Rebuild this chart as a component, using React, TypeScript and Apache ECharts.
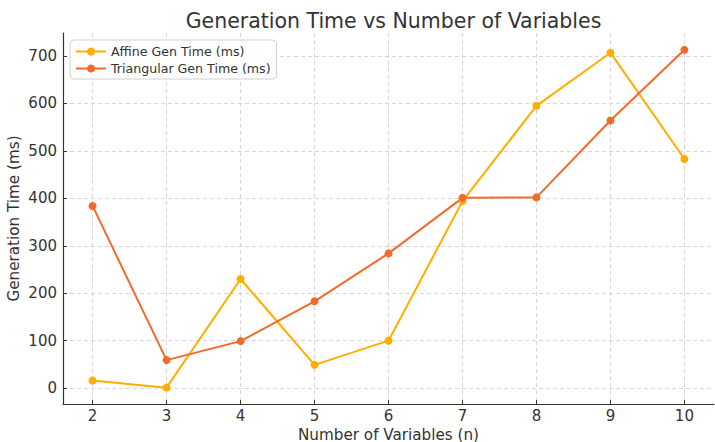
import React, { useEffect, useRef } from "react";
import * as echarts from "echarts";

const nVars = [2, 3, 4, 5, 6, 7, 8, 9, 10];
const affineMs = [16, 1, 230, 49, 100, 394, 595, 707, 483];
const triangularMs = [384, 59, 99, 183, 284, 401, 402, 564, 713];
const yTicks = [0, 100, 200, 300, 400, 500, 600, 700];
const xTicks = [2, 3, 4, 5, 6, 7, 8, 9, 10];

const FONT = "DejaVu Sans";

export default function App() {
  const ref = useRef<HTMLDivElement>(null);
  useEffect(() => {
    if (!ref.current) return;
    const chart = echarts.init(ref.current, undefined, { renderer: "svg" });
    const gridLine = { show: true, lineStyle: { color: "#cccccc", type: [4, 3], width: 0.8 } };
    chart.setOption({
      animation: false,
      backgroundColor: "#ffffff",
      textStyle: { fontFamily: FONT },
      title: {
        text: "Generation Time vs Number of Variables",
        left: 388.5,
        textAlign: "center",
        top: 5,
        textStyle: { fontFamily: FONT, fontSize: 20.5, fontWeight: "normal", color: "#333333" },
      },
      legend: {
        orient: "vertical",
        left: 70,
        top: 40,
        padding: [5, 6, 4, 5],
        itemGap: 4,
        itemWidth: 30,
        itemHeight: 10,
        backgroundColor: "#ffffff",
        borderColor: "#d0d0d0",
        borderWidth: 1,
        borderRadius: 4,
        textStyle: { fontFamily: FONT, fontSize: 12.6, color: "#333333" },
        data: ["Affine Gen Time (ms)", "Triangular Gen Time (ms)"],
      },
      grid: { left: 63, right: 1, top: 33, bottom: 38, containLabel: false, outerBoundsMode: "none" },
      xAxis: {
        type: "value",
        min: 1.6,
        max: 10.4,
        name: "Number of Variables (n)",
        nameLocation: "middle",
        nameGap: 23,
        nameMoveOverlap: false,
        nameTextStyle: { fontFamily: FONT, fontSize: 15.2, color: "#333333" },
        axisLine: { show: true, onZero: false, lineStyle: { color: "#333333", width: 1.2 } },
        axisTick: { show: true, inside: true, length: 4, customValues: xTicks, lineStyle: { color: "#333333" } },
        axisLabel: { customValues: xTicks, margin: 4, fontFamily: FONT, fontSize: 15, color: "#333333" },
        splitLine: gridLine,
      },
      yAxis: {
        type: "value",
        min: -33.5,
        max: 748.5,
        name: "Generation Time (ms)",
        nameLocation: "middle",
        nameGap: 42,
        nameMoveOverlap: false,
        nameRotate: 90,
        nameTextStyle: { fontFamily: FONT, fontSize: 15.2, color: "#333333" },
        axisLine: { show: true, onZero: false, lineStyle: { color: "#333333", width: 1.2 } },
        axisTick: { show: true, inside: true, length: 4, customValues: yTicks, lineStyle: { color: "#333333" } },
        axisLabel: { customValues: yTicks, margin: 6, fontFamily: FONT, fontSize: 15, color: "#333333" },
        splitLine: gridLine,
      },
      series: [
        {
          name: "Affine Gen Time (ms)",
          type: "line",
          data: nVars.map((n, i) => [n, affineMs[i]]),
          symbol: "circle",
          symbolSize: 8,
          color: "#FFAE00",
          lineStyle: { width: 2, color: "#FFAE00" },
          itemStyle: { color: "#FFAE00" },
        },
        {
          name: "Triangular Gen Time (ms)",
          type: "line",
          data: nVars.map((n, i) => [n, triangularMs[i]]),
          symbol: "circle",
          symbolSize: 8,
          color: "#F26B2A",
          lineStyle: { width: 2, color: "#F26B2A" },
          itemStyle: { color: "#F26B2A" },
        },
      ],
    });
    return () => chart.dispose();
  }, []);
  return <div ref={ref} style={{ width: 715, height: 442, position: "absolute", left: 0, top: 0 }} />;
}
